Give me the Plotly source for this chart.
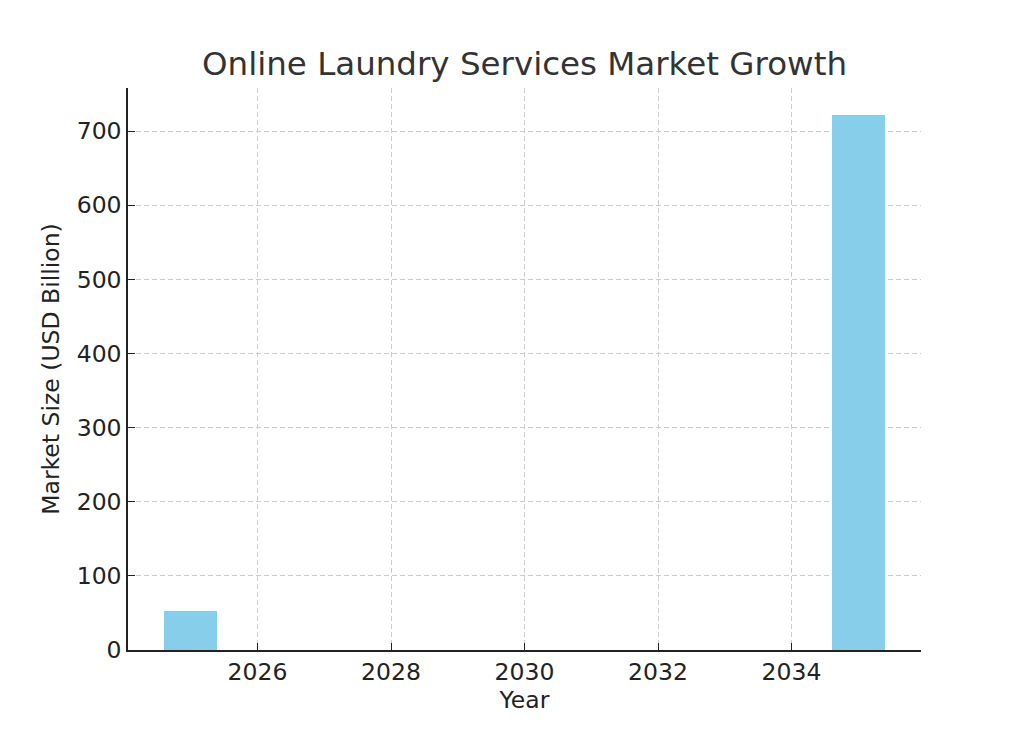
import plotly.graph_objects as go

years = [2025, 2035]
market_size = [52, 722]
x_ticks = [2026, 2028, 2030, 2032, 2034]
y_ticks = [0, 100, 200, 300, 400, 500, 600, 700]

fig = go.Figure()
fig.add_trace(go.Bar(x=years, y=market_size, width=0.8, marker=dict(color="#87CEEB", line=dict(width=0))))

font = "DejaVu Sans"
fig.update_layout(
    width=1024, height=731,
    paper_bgcolor="white", plot_bgcolor="white",
    margin=dict(l=128, r=103, t=88, b=81),
    font=dict(family=font, size=24, color="#333333"),
    title=dict(text="Online Laundry Services Market Growth", x=0.5, xanchor="center", xref="paper",
               y=1 - 64 / 731, yanchor="middle", font=dict(size=32.5, color="#333333")),
    showlegend=False,
    bargap=0,
)
axis_common = dict(
    showline=True, linecolor="#222222", linewidth=1.5,
    ticks="inside", ticklen=7, tickwidth=1.2, tickcolor="#222222",
    showgrid=True, gridcolor="#cccccc", griddash="5px,3px", gridwidth=1,
    zeroline=False, layer="above traces",
    tickfont=dict(size=23.5, color="#222222"),
)
fig.update_xaxes(range=[2024.06, 2035.94], tickvals=x_ticks, ticktext=[str(t) for t in x_ticks],
                 title=dict(text="Year", font=dict(size=23.5, color="#222222"), standoff=6), **axis_common)
fig.update_yaxes(range=[0, 758.1], tickvals=y_ticks, ticktext=[str(t) for t in y_ticks],
                 title=dict(text="Market Size (USD Billion)", font=dict(size=23.5, color="#222222"), standoff=10),
                 **axis_common)

fig.write_html("out.html")
